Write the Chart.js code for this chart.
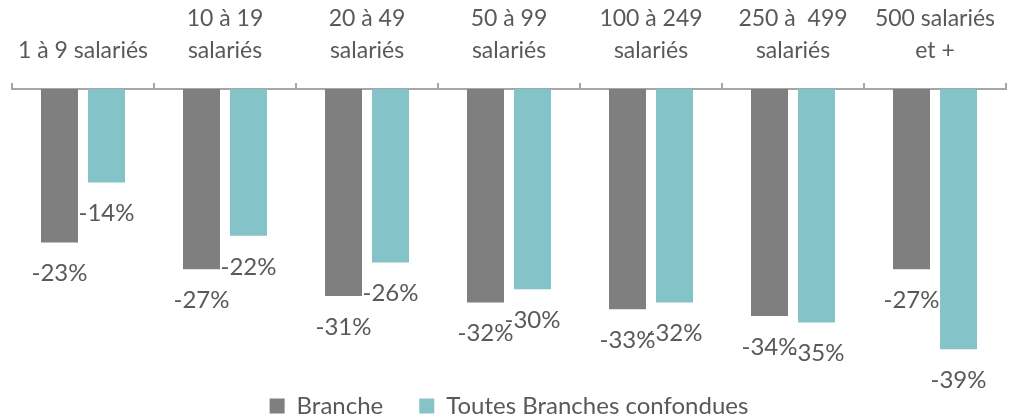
<!DOCTYPE html>
<html>
<head>
<meta charset="utf-8">
<script src="https://cdn.jsdelivr.net/npm/chart.js@4"></script>
<style>
  html, body { margin: 0; padding: 0; background: #fff; }
  #wrap { width: 1013px; height: 419px; }
</style>
</head>
<body>
<div id="wrap"><canvas id="chart"></canvas></div>
<script>
// tranches d'effectif (axe du haut)
const categories = [
  '1 à 9 salariés',
  ['10 à 19', 'salariés'],
  ['20 à 49', 'salariés'],
  ['50 à 99', 'salariés'],
  ['100 à 249', 'salariés'],
  ['250 à  499', 'salariés'],
  ['500 salariés', 'et +']
];

// évolution en %
const branche = [-23, -27, -31, -32, -33, -34, -27];
const toutesBranches = [-14, -22, -26, -30, -32, -35, -39];

const seriesNames = ['Branche', 'Toutes Branches confondues'];

const FONT = 'Lato, "Open Sans", sans-serif';
const TEXT = '#595959';

// valeurs écrites sous chaque barre
const barValueLabels = {
  id: 'barValueLabels',
  afterDatasetsDraw(chart) {
    const ctx = chart.ctx;
    ctx.save();
    ctx.font = '24px ' + FONT;
    ctx.fillStyle = TEXT;
    ctx.textAlign = 'center';
    ctx.textBaseline = 'middle';
    chart.data.datasets.forEach((ds, i) => {
      chart.getDatasetMeta(i).data.forEach((bar, j) => {
        ctx.fillText(ds.data[j] + '%', bar.x, bar.y + 31);
      });
    });
    ctx.restore();
  }
};

new Chart(document.getElementById('chart'), {
  type: 'bar',
  data: {
    labels: categories,
    datasets: [
      {
        label: seriesNames[0],
        data: branche,
        backgroundColor: '#7f7f7f',
        categoryPercentage: 0.662,
        barPercentage: 0.787
      },
      {
        label: seriesNames[1],
        data: toutesBranches,
        backgroundColor: '#84c3c8',
        categoryPercentage: 0.662,
        barPercentage: 0.787
      }
    ]
  },
  options: {
    responsive: true,
    maintainAspectRatio: false,
    animation: false,
    layout: { padding: { top: -13, left: 12, right: 7, bottom: -9 } },
    plugins: {
      tooltip: { enabled: false },
      legend: {
        position: 'bottom',
        labels: {
          font: { family: FONT, size: 24 },
          color: TEXT,
          boxWidth: 15,
          boxHeight: 15,
          padding: 36
        }
      }
    },
    scales: {
      x: {
        position: 'top',
        grid: {
          drawOnChartArea: false,
          color: '#a6a6a6',
          lineWidth: 2,
          tickLength: 6
        },
        border: { display: true, color: '#a6a6a6', width: 2 },
        ticks: {
          font: { family: FONT, size: 23, lineHeight: 1.39 },
          color: TEXT,
          padding: 16,
          maxRotation: 0,
          autoSkip: false
        }
      },
      y: {
        display: false,
        min: -40.3,
        max: 0
      }
    }
  },
  plugins: [barValueLabels]
});
</script>
</body>
</html>
